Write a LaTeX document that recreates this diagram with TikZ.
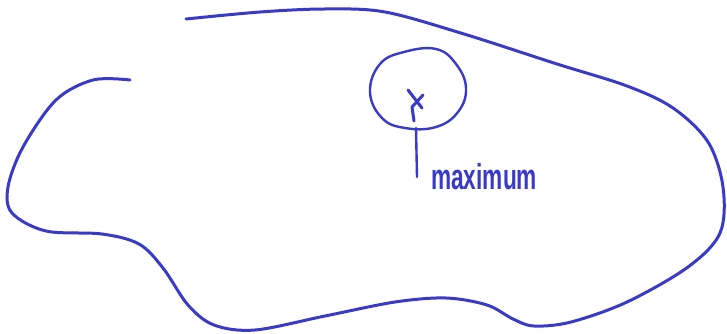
\documentclass[tikz,border=0pt]{standalone}
\usepackage{fontspec}
\setmainfont{Liberation Sans}
\definecolor{pen}{RGB}{58,58,200}
\begin{document}
\begin{tikzpicture}[x=1pt,y=-1pt,
  penline/.style={draw=pen,line width=3pt,line cap=round,line join=round},
  thinpen/.style={draw=pen,line width=2.4pt,line cap=round,line join=round},
  labeltext/.style={text=pen,inner sep=0pt,font=\bfseries\fontsize{36}{40}\selectfont}]
\useasboundingbox (0,0) rectangle (727,334);
% outer boundary
\draw[penline] plot[smooth,tension=0.55] coordinates {
 (186,19) (260,12) (325,9) (385,12) (464,34) (557,64) (627,86) (673,108)
 (708,142) (723,187) (720,233) (688,267) (627,302) (571,322) (534,326)
 (513,319) (487,305) (446,298) (395,302) (325,316) (255,330) (214,325)
 (188,305) (163,268) (139,244) (102,234) (46,231) (12,213) (8,187)
 (23,147) (56,100) (93,80) (130,80)};
% circle around maximum
\draw[thinpen] plot[smooth cycle,tension=0.7] coordinates {
 (436,49) (456,64) (466,88) (458,112) (436,127) (405,128) (382,118)
 (370,92) (380,64) (404,52)};
% cross mark
\coordinate (xa) at (408,90);
\coordinate (xb) at (422,108);
\coordinate (xc) at (423,95);
\coordinate (xd) at (412,107);
\coordinate (xe) at (414,121);
\draw[penline] (xa) -- (xb);
\draw[penline] (xc) -- (xd) -- (xe);
% pointer and label
\coordinate (ptop) at (416,128);
\node[labeltext,anchor=base west] (lab) at (431,189) {\scalebox{0.63}[1]{maximum}};
\coordinate (pbot) at (417,177);
\draw[thinpen] (ptop) -- (pbot);
\end{tikzpicture}
\end{document}
